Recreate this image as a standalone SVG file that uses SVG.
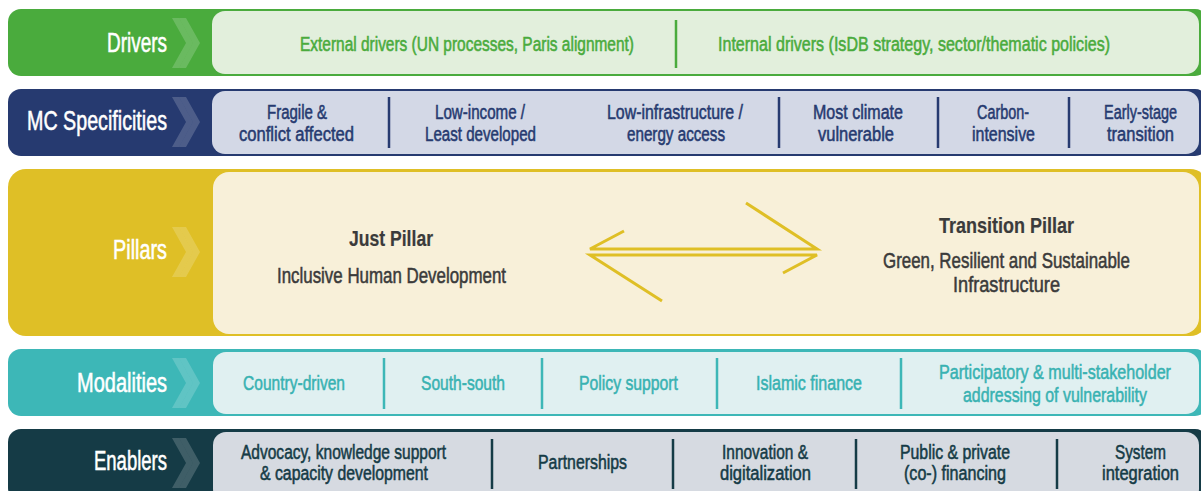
<svg xmlns="http://www.w3.org/2000/svg" width="1201" height="491" viewBox="0 0 1201 491">
<style>
text{font-family:"Liberation Sans Narrow","Liberation Sans",Arial,sans-serif;stroke-width:0.55px;}
.lbl{fill:#ffffff;stroke:#ffffff;font-size:27px;}
.it{font-size:20px;}
.g{fill:#4aab3d;stroke:#4aab3d}
.n{fill:#263a70;stroke:#263a70}
.t{fill:#38b2b2;stroke:#38b2b2;font-size:21px}
.d{fill:#153b46;stroke:#153b46}
.p{fill:#3b3b3b;stroke:#3b3b3b;font-size:22px}
.pb{font-weight:bold;stroke-width:0.2px}
.chev{fill:#ffffff;opacity:0.18}
.div{stroke-width:2.5}
.arr{stroke:#dfbf26;stroke-width:3;fill:none;stroke-linecap:butt}
</style>
<defs>
<g id="chev">
<polygon class="chev" points="0,0 7,0 21,25 7,50 0,50 14,25"/>
<polygon class="chev" points="7,0 14,0 28,25 14,50 7,50 21,25"/>
</g>
</defs>
<rect width="1201" height="491" fill="#ffffff"/>

<g id="drivers">
<rect x="8" y="9" width="1200" height="67" rx="13" fill="#4aab3d"/>
<rect x="212" y="11" width="987" height="63" rx="13" fill="#e2efdc"/>
<use href="#chev" x="172" y="18"/>
<text class="lbl" x="107" y="52" textLength="60" lengthAdjust="spacingAndGlyphs">Drivers</text>
<text class="it g" x="300" y="51" textLength="334" lengthAdjust="spacingAndGlyphs">External drivers (UN processes, Paris alignment)</text>
<line class="div" x1="676" y1="20" x2="676" y2="68" stroke="#4aab3d"/>
<text class="it g" x="718" y="51" textLength="392" lengthAdjust="spacingAndGlyphs">Internal drivers (IsDB strategy, sector/thematic policies)</text>
</g>

<g id="mc-specificities">
<rect x="8" y="89" width="1200" height="67" rx="13" fill="#263a70"/>
<rect x="212" y="91" width="987" height="63" rx="13" fill="#d3d8e6"/>
<use href="#chev" x="172" y="97"/>
<text class="lbl" x="27" y="130" textLength="140" lengthAdjust="spacingAndGlyphs">MC Specificities</text>
<g stroke="#263a70" class="div">
<line x1="389" y1="97" x2="389" y2="148"/>
<line x1="779" y1="97" x2="779" y2="148"/>
<line x1="938" y1="97" x2="938" y2="148"/>
<line x1="1069" y1="97" x2="1069" y2="148"/>
</g>
<text class="it n" x="267" y="119" textLength="60" lengthAdjust="spacingAndGlyphs">Fragile &amp;</text>
<text class="it n" x="239" y="141" textLength="115" lengthAdjust="spacingAndGlyphs">conflict affected</text>
<text class="it n" x="435" y="119" textLength="90" lengthAdjust="spacingAndGlyphs">Low-income /</text>
<text class="it n" x="425" y="141" textLength="111" lengthAdjust="spacingAndGlyphs">Least developed</text>
<text class="it n" x="607" y="119" textLength="136" lengthAdjust="spacingAndGlyphs">Low-infrastructure /</text>
<text class="it n" x="627" y="141" textLength="98" lengthAdjust="spacingAndGlyphs">energy access</text>
<text class="it n" x="813" y="119" textLength="90" lengthAdjust="spacingAndGlyphs">Most climate</text>
<text class="it n" x="818" y="141" textLength="76" lengthAdjust="spacingAndGlyphs">vulnerable</text>
<text class="it n" x="977" y="119" textLength="52" lengthAdjust="spacingAndGlyphs">Carbon-</text>
<text class="it n" x="972" y="141" textLength="63" lengthAdjust="spacingAndGlyphs">intensive</text>
<text class="it n" x="1104" y="119" textLength="73" lengthAdjust="spacingAndGlyphs">Early-stage</text>
<text class="it n" x="1107" y="141" textLength="67" lengthAdjust="spacingAndGlyphs">transition</text>
</g>

<g id="pillars">
<rect x="8" y="169" width="1200" height="167" rx="18" fill="#dfbf26"/>
<rect x="213" y="172" width="986" height="162" rx="16" fill="#f8f0d9"/>
<use href="#chev" x="172" y="227"/>
<text class="lbl" x="113" y="259" textLength="54" lengthAdjust="spacingAndGlyphs">Pillars</text>
</g>

<g id="just-pillar">
<text class="p pb" x="349" y="246" textLength="84" lengthAdjust="spacingAndGlyphs">Just Pillar</text>
<text class="p" x="277" y="283" textLength="229" lengthAdjust="spacingAndGlyphs">Inclusive Human Development</text>
</g>

<g id="transition-pillar">
<text class="p pb" x="939" y="233" textLength="135" lengthAdjust="spacingAndGlyphs">Transition Pillar</text>
<text class="p" x="883" y="268" textLength="247" lengthAdjust="spacingAndGlyphs">Green, Resilient and Sustainable</text>
<text class="p" x="953" y="292" textLength="107" lengthAdjust="spacingAndGlyphs">Infrastructure</text>
</g>

<g id="connectors">
<polyline class="arr" points="624,231 590,249 817,249 746,203"/>
<polyline class="arr" points="662,301 590,255 817,255 783,273"/>
</g>

<g id="modalities">
<rect x="8" y="349" width="1200" height="67" rx="13" fill="#3db7b7"/>
<rect x="213" y="352" width="986" height="62" rx="13" fill="#e0f0f1"/>
<use href="#chev" x="172" y="358"/>
<text class="lbl" x="77" y="392" textLength="90" lengthAdjust="spacingAndGlyphs">Modalities</text>
<g stroke="#3db7b7" class="div">
<line x1="384" y1="358" x2="384" y2="409"/>
<line x1="542" y1="358" x2="542" y2="409"/>
<line x1="717" y1="358" x2="717" y2="409"/>
<line x1="901" y1="358" x2="901" y2="409"/>
</g>
<text class="t" x="243" y="390" textLength="102" lengthAdjust="spacingAndGlyphs">Country-driven</text>
<text class="t" x="421" y="390" textLength="84" lengthAdjust="spacingAndGlyphs">South-south</text>
<text class="t" x="579" y="390" textLength="99" lengthAdjust="spacingAndGlyphs">Policy support</text>
<text class="t" x="756" y="390" textLength="106" lengthAdjust="spacingAndGlyphs">Islamic finance</text>
<text class="t" x="939" y="379" textLength="232" lengthAdjust="spacingAndGlyphs">Participatory &amp; multi-stakeholder</text>
<text class="t" x="963" y="402" textLength="184" lengthAdjust="spacingAndGlyphs">addressing of vulnerability</text>
</g>

<g id="enablers">
<rect x="8" y="429" width="1200" height="72" rx="13" fill="#153b46"/>
<rect x="213" y="432" width="986" height="70" rx="13" fill="#d6dae1"/>
<use href="#chev" x="172" y="438"/>
<text class="lbl" x="94" y="470" textLength="73" lengthAdjust="spacingAndGlyphs">Enablers</text>
<g stroke="#153b46" class="div">
<line x1="492" y1="439" x2="492" y2="489"/>
<line x1="673" y1="439" x2="673" y2="489"/>
<line x1="856" y1="439" x2="856" y2="489"/>
<line x1="1057" y1="439" x2="1057" y2="489"/>
</g>
<text class="it d" x="241" y="459" textLength="205" lengthAdjust="spacingAndGlyphs">Advocacy, knowledge support</text>
<text class="it d" x="260" y="480" textLength="168" lengthAdjust="spacingAndGlyphs">&amp; capacity development</text>
<text class="it d" x="538" y="469" textLength="89" lengthAdjust="spacingAndGlyphs">Partnerships</text>
<text class="it d" x="722" y="459" textLength="86" lengthAdjust="spacingAndGlyphs">Innovation &amp;</text>
<text class="it d" x="720" y="480" textLength="91" lengthAdjust="spacingAndGlyphs">digitalization</text>
<text class="it d" x="900" y="459" textLength="110" lengthAdjust="spacingAndGlyphs">Public &amp; private</text>
<text class="it d" x="904" y="480" textLength="102" lengthAdjust="spacingAndGlyphs">(co-) financing</text>
<text class="it d" x="1115" y="459" textLength="51" lengthAdjust="spacingAndGlyphs">System</text>
<text class="it d" x="1102" y="480" textLength="77" lengthAdjust="spacingAndGlyphs">integration</text>
</g>
</svg>
